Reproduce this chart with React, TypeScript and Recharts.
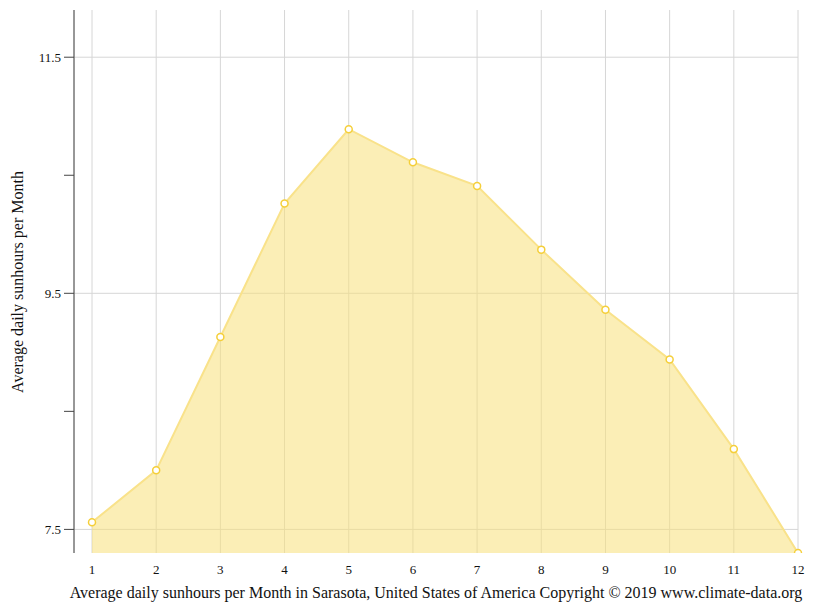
import React from "react";
import { AreaChart, Area, XAxis, YAxis, CartesianGrid, Label } from "recharts";

const months = [1, 2, 3, 4, 5, 6, 7, 8, 9, 10, 11, 12];
const sunhours = [7.56, 8.0, 9.13, 10.26, 10.89, 10.61, 10.41, 9.87, 9.36, 8.94, 8.18, 7.3];
const yTicks = [7.5, 8.5, 9.5, 10.5, 11.5];
const yLabeled = [7.5, 9.5, 11.5];

const data = months.map((m, i) => ({ month: m, value: sunhours[i] }));

const FONT = "'Liberation Serif', 'DejaVu Serif', serif";

const YTick = (props: any) => {
  const { x, y, payload } = props;
  if (!yLabeled.includes(payload.value)) return <g />;
  return (
    <text x={x} y={y} dy={4.5} textAnchor="end" fontSize={13} fontFamily={FONT} fill="#111">
      {payload.value.toFixed(1)}
    </text>
  );
};

export default function App() {
  return (
    <div style={{ position: "absolute", left: 0, top: 0, background: "#fff" }}>
      <AreaChart
        width={815}
        height={611}
        data={data}
        margin={{ top: 10, right: 17, left: 0, bottom: 0 }}
      >
        <CartesianGrid
          stroke="#d6d6d6"
          horizontalValues={yLabeled}
          strokeWidth={1}
        />
        <XAxis
          dataKey="month"
          type="number"
          domain={[1, 12]}
          ticks={months}
          padding={{ left: 18, right: 0 }}
          height={58}
          axisLine={false}
          tickLine={false}
          tickMargin={6}
          tick={{ fontSize: 13, fontFamily: FONT, fill: "#111" }}
          interval={0}
        >
          <Label
            value="Average daily sunhours per Month in Sarasota, United States of America Copyright © 2019 www.climate-data.org"
            position="insideBottom"
            offset={13}
            style={{ fontSize: 16, fontFamily: FONT, fill: "#111" }}
          />
        </XAxis>
        <YAxis
          type="number"
          domain={[7.3, 11.9]}
          ticks={yTicks}
          width={74}
          axisLine={{ stroke: "#444" }}
          tickLine={{ stroke: "#444" }}
          tickSize={10}
          tickMargin={3}
          tick={<YTick />}
          interval={0}
          allowDataOverflow
        >
          <Label
            content={() => (
              <text
                x={17}
                y={282}
                transform="rotate(-90 17 282)"
                textAnchor="middle"
                dominantBaseline="central"
                fontSize={16}
                fontFamily={FONT}
                fill="#111"
              >
                Average daily sunhours per Month
              </text>
            )}
          />
        </YAxis>
        <Area
          type="linear"
          dataKey="value"
          stroke="#f9e28a"
          strokeWidth={2}
          fill="#f7e07a"
          fillOpacity={0.55}
          dot={{ r: 3.5, fill: "#fff", stroke: "#f5cf3a", strokeWidth: 1.5, fillOpacity: 1 }}
          activeDot={false}
          baseValue={7.3}
          isAnimationActive={false}
        />
      </AreaChart>
    </div>
  );
}
